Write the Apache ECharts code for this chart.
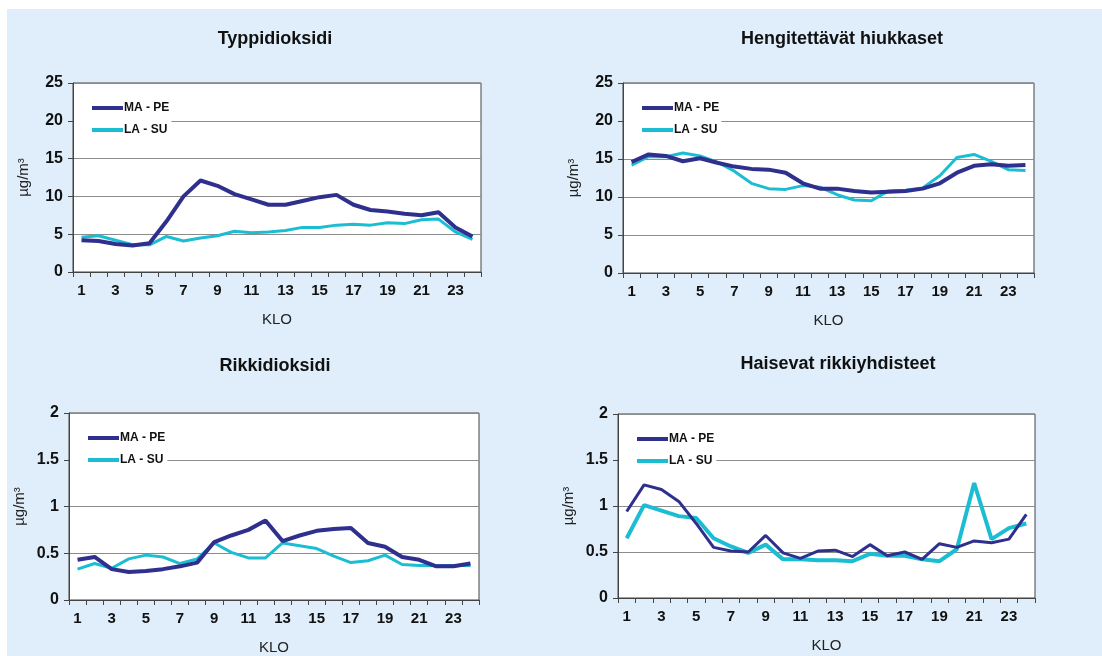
<!DOCTYPE html>
<html>
<head>
<meta charset="utf-8">
<script src="https://cdn.jsdelivr.net/npm/echarts@6/dist/echarts.min.js"></script>
<style>
  html, body { margin: 0; padding: 0; background: #fff; }
  #bg { position: absolute; left: 7px; top: 9px; right: 0; bottom: 0; background: #dfeefa; }
  #main { position: absolute; left: 0; top: 0; width: 1102px; height: 656px; }
</style>
</head>
<body>
<div id="bg"></div>
<div id="main"></div>
<script>
var hours = ['1','2','3','4','5','6','7','8','9','10','11','12','13','14','15','16','17','18','19','20','21','22','23','24'];
var titles = ['Typpidioksidi', 'Hengitettävät hiukkaset', 'Rikkidioksidi', 'Haisevat rikkiyhdisteet'];

// Typpidioksidi
var no2Arki = [4.2,4.1,3.7,3.5,3.8,6.7,10.0,12.1,11.4,10.3,9.6,8.9,8.9,9.4,9.9,10.2,8.9,8.2,8.0,7.7,7.5,7.9,5.9,4.7];
var no2Viikonloppu = [4.6,4.8,4.2,3.6,3.6,4.7,4.1,4.5,4.8,5.4,5.2,5.3,5.5,5.9,5.9,6.2,6.3,6.2,6.5,6.4,6.9,7.0,5.3,4.3];
// Hengitettävät hiukkaset
var pmArki = [14.6,15.6,15.4,14.7,15.1,14.5,14.0,13.7,13.6,13.2,11.8,11.1,11.1,10.8,10.6,10.7,10.8,11.1,11.8,13.2,14.1,14.3,14.1,14.2];
var pmViikonloppu = [14.2,15.3,15.3,15.8,15.4,14.6,13.4,11.8,11.1,11.0,11.5,11.3,10.3,9.6,9.5,10.8,10.9,11.2,12.8,15.2,15.6,14.7,13.6,13.5];
// Rikkidioksidi
var so2Arki = [0.43,0.46,0.33,0.30,0.31,0.33,0.36,0.40,0.62,0.69,0.75,0.85,0.63,0.69,0.74,0.76,0.77,0.61,0.57,0.46,0.43,0.36,0.36,0.39];
var so2Viikonloppu = [0.33,0.39,0.34,0.44,0.48,0.46,0.39,0.44,0.61,0.51,0.45,0.45,0.61,0.58,0.55,0.47,0.40,0.42,0.48,0.38,0.37,0.37,0.37,0.37];
// Haisevat rikkiyhdisteet
var trsArki = [0.94,1.23,1.18,1.05,0.81,0.55,0.51,0.50,0.68,0.49,0.43,0.51,0.52,0.45,0.58,0.46,0.50,0.42,0.59,0.55,0.62,0.60,0.64,0.91];
var trsViikonloppu = [0.65,1.01,0.95,0.89,0.87,0.65,0.56,0.49,0.58,0.42,0.42,0.41,0.41,0.40,0.48,0.46,0.46,0.42,0.40,0.53,1.25,0.64,0.76,0.81];

var yMax = [25, 25, 2, 2];
var yStep = [5, 5, 0.5, 0.5];
var arki = [no2Arki, pmArki, so2Arki, trsArki];
var viikonloppu = [no2Viikonloppu, pmViikonloppu, so2Viikonloppu, trsViikonloppu];

var dark = '#2f2f8e';
var cyan = '#1bbdd3';
var font = "'Liberation Sans', Arial, sans-serif";

var grids = [
  { left: 73, top: 83, width: 408, height: 189 },
  { left: 623, top: 83, width: 411, height: 190 },
  { left: 69, top: 413, width: 410, height: 190 },
  { left: 618, top: 414, width: 417, height: 184 }
];
var titleX = [270, 837, 270, 833];
var titleY = [25, 25, 352, 350];
var darkW = [4, 4, 4, 3];
var cyanW = [3, 3, 3, 4];

var option = {
  animation: false,
  textStyle: { fontFamily: font },
  title: [], grid: [], xAxis: [], yAxis: [], legend: [], series: []
};

for (var i = 0; i < 4; i++) {
  option.title.push({
    text: titles[i], left: titleX[i], top: titleY[i], textAlign: 'center',
    textStyle: { fontFamily: font, fontSize: 18, fontWeight: 'bold', color: '#111' }
  });
  option.grid.push({
    left: grids[i].left, top: grids[i].top, width: grids[i].width, height: grids[i].height,
    show: true, backgroundColor: '#fff', borderColor: '#444', borderWidth: 1
  });
  option.xAxis.push({
    type: 'category', gridIndex: i, data: hours, boundaryGap: true,
    name: 'KLO', nameLocation: 'middle', nameGap: 40,
    nameTextStyle: { fontFamily: font, fontSize: 15, color: '#222' },
    axisLine: { lineStyle: { color: '#444' } },
    axisTick: { show: true, interval: 0, length: 5, lineStyle: { color: '#444' } },
    axisLabel: { interval: 1, margin: 11, fontFamily: font, fontSize: 15, fontWeight: 'bold', color: '#111' },
    splitLine: { show: false }
  });
  option.yAxis.push({
    type: 'value', gridIndex: i, min: 0, max: yMax[i], interval: yStep[i],
    name: 'µg/m³', nameLocation: 'middle', nameGap: 42,
    nameTextStyle: { fontFamily: font, fontSize: 15, color: '#222' },
    axisLine: { show: true, lineStyle: { color: '#444' } },
    axisTick: { show: true, length: 5, lineStyle: { color: '#444' } },
    axisLabel: { margin: 10, fontFamily: font, fontSize: 16, fontWeight: 'bold', color: '#111' },
    splitLine: { show: true, lineStyle: { color: '#8c8c8c', width: 1 } }
  });
  option.legend.push({
    orient: 'vertical', left: grids[i].left + 1, top: grids[i].top + 14,
    backgroundColor: '#fff', padding: [5, 2, 5, 18], itemGap: 10,
    itemWidth: 31, itemHeight: 4,
    textStyle: { fontFamily: font, fontSize: 12, fontWeight: 'bold', color: '#111', padding: [0, 0, 0, -4] },
    data: [
      { name: 'MA - PE', icon: 'rect', itemStyle: { color: dark } },
      { name: 'LA - SU', icon: 'rect', itemStyle: { color: cyan } }
    ]
  });
  option.series.push({
    name: 'MA - PE', type: 'line', xAxisIndex: i, yAxisIndex: i, data: arki[i],
    symbol: 'none', lineStyle: { color: dark, width: darkW[i] }, itemStyle: { color: dark }, z: 3
  });
  option.series.push({
    name: 'LA - SU', type: 'line', xAxisIndex: i, yAxisIndex: i, data: viikonloppu[i],
    symbol: 'none', lineStyle: { color: cyan, width: cyanW[i] }, itemStyle: { color: cyan }, z: 2
  });
}

var chart = echarts.init(document.getElementById('main'));
chart.setOption(option);
</script>
</body>
</html>
